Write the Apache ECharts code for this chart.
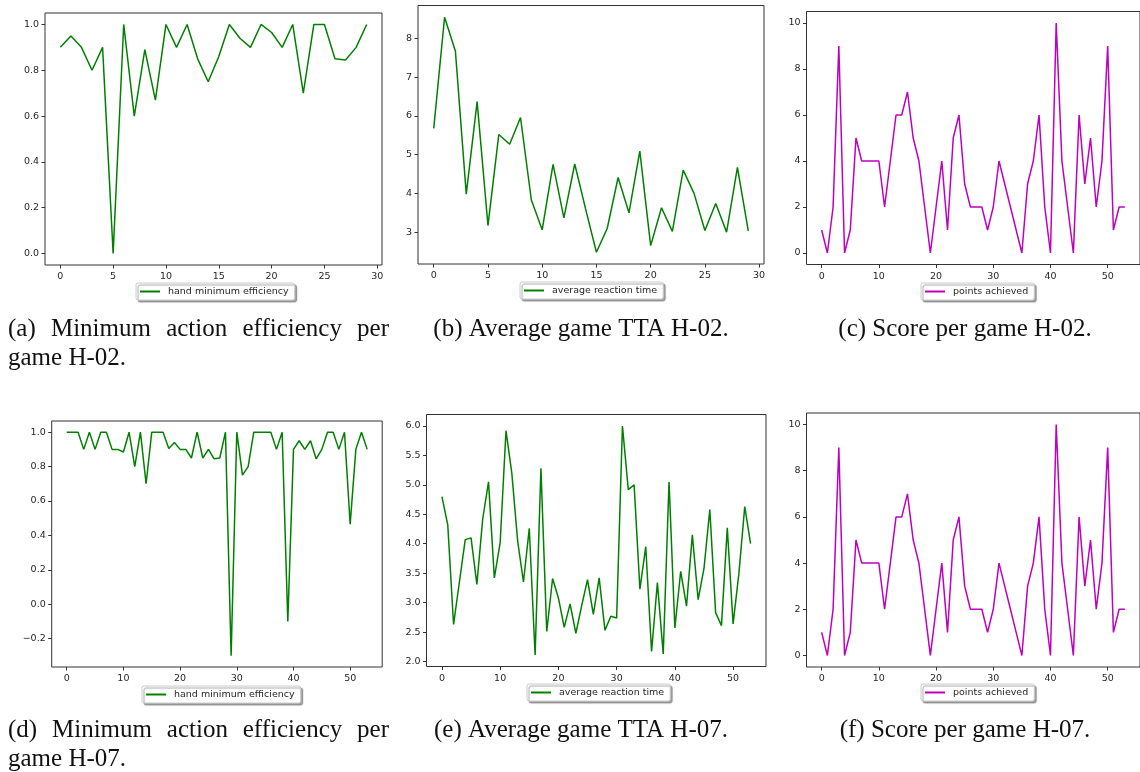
<!DOCTYPE html>
<html>
<head>
    <meta charset="utf-8">
    <title>H-02 / H-07 per game</title>
    <script src="https://cdn.jsdelivr.net/npm/echarts@6/dist/echarts.min.js"></script>
    <style>
        html, body { margin: 0; padding: 0; background: #fff; }
        #main { width: 1140px; height: 772px; }
    </style>
</head>
<body>
    <div id="main"></div>
    <script type="text/javascript">
        // per-game values
        var effH02 = [0.9, 0.95, 0.9, 0.8, 0.9, 0.0, 1.0, 0.6, 0.89, 0.67, 1.0, 0.9, 1.0, 0.85, 0.75,
            0.86, 1.0, 0.94, 0.9, 1.0, 0.965, 0.9, 1.0, 0.7, 1.0, 1.0, 0.85, 0.845, 0.9, 1.0];
        var ttaH02 = [5.68, 8.55, 7.67, 3.98, 6.37, 3.17, 5.52, 5.27, 5.96, 3.83, 3.06, 4.75, 3.37, 4.76, 3.6,
            2.48, 3.1, 4.41, 3.5, 5.09, 2.65, 3.63, 3.02, 4.6, 4.0, 3.04, 3.74, 3.0, 4.67, 3.03];
        var scoreH02 = [1, 0, 2, 9, 0, 1, 5, 4, 4, 4, 4, 2, 4, 6, 6, 7, 5, 4, 2, 0, 2, 4, 1, 5, 6, 3, 2,
            2, 2, 1, 2, 4, 3, 2, 1, 0, 3, 4, 6, 2, 0, 10, 4, 2, 0, 6, 3, 5, 2, 4, 9, 1, 2, 2];
        var effH07 = [1.0, 1.0, 1.0, 0.9, 1.0, 0.9, 1.0, 1.0, 0.9, 0.9, 0.885, 1.0, 0.8, 1.0, 0.7, 1.0, 1.0, 1.0,
            0.905, 0.94, 0.9, 0.9, 0.85, 1.0, 0.85, 0.9, 0.845, 0.85, 1.0, -0.3, 1.0, 0.75, 0.8, 1.0, 1.0, 1.0,
            1.0, 0.9, 1.0, -0.1, 0.9, 0.95, 0.9, 0.95, 0.845, 0.9, 1.0, 1.0, 0.9, 1.0, 0.465, 0.9, 1.0, 0.9];
        var ttaH07 = [4.8, 4.32, 2.63, 3.35, 4.07, 4.1, 3.31, 4.42, 5.05, 3.42, 4.02, 5.92, 5.2, 4.05, 3.35, 4.26,
            2.11, 5.28, 2.51, 3.41, 3.08, 2.58, 2.98, 2.48, 2.95, 3.39, 2.8, 3.42, 2.53, 2.77, 2.74, 6.0, 4.92,
            5.0, 3.23, 3.95, 2.17, 3.34, 2.13, 5.05, 2.57, 3.53, 2.94, 4.15, 3.05, 3.58, 4.58, 2.83, 2.61, 4.27,
            2.64, 3.5, 4.63, 4.0];
        var scoreH07 = [1, 0, 2, 9, 0, 1, 5, 4, 4, 4, 4, 2, 4, 6, 6, 7, 5, 4, 2, 0, 2, 4, 1, 5, 6, 3, 2,
            2, 2, 1, 2, 4, 3, 2, 1, 0, 3, 4, 6, 2, 0, 10, 4, 2, 0, 6, 3, 5, 2, 4, 9, 1, 2, 2];

        // tick labels
        var xTicks30 = [0, 5, 10, 15, 20, 25, 30];
        var xTicks54 = [0, 10, 20, 30, 40, 50];
        var yTicksEffH02 = [0, 0.2, 0.4, 0.6, 0.8, 1.0];
        var yTicksTtaH02 = [3, 4, 5, 6, 7, 8];
        var yTicksScore = [0, 2, 4, 6, 8, 10];
        var yTicksEffH07 = [-0.2, 0, 0.2, 0.4, 0.6, 0.8, 1.0];
        var yTicksTtaH07 = [2.0, 2.5, 3.0, 3.5, 4.0, 4.5, 5.0, 5.5, 6.0];

        var GREEN = '#008000';
        var MAGENTA = '#bf00bf';

        // one entry per subplot: data, colour, legend name, ticks, grid box, legend spot
        var panels = [
            { data: effH02, color: GREEN, name: 'hand minimum efficiency', xt: xTicks30, yt: yTicksEffH02, dec: 1,
              grid: [45, 13, 337, 252], leg: [136, 283] },
            { data: ttaH02, color: GREEN, name: 'average reaction time', xt: xTicks30, yt: yTicksTtaH02, dec: 0,
              grid: [418, 5.5, 346, 258.5], leg: [520, 282] },
            { data: scoreH02, color: MAGENTA, name: 'points achieved', xt: xTicks54, yt: yTicksScore, dec: 0,
              grid: [806.5, 11.5, 341, 253], leg: [921, 283] },
            { data: effH07, color: GREEN, name: 'hand minimum efficiency', xt: xTicks54, yt: yTicksEffH07, dec: 1,
              grid: [51.7, 421, 330.5, 246], leg: [142, 686] },
            { data: ttaH07, color: GREEN, name: 'average reaction time', xt: xTicks54, yt: yTicksTtaH07, dec: 1,
              grid: [426.5, 414.5, 339.5, 252], leg: [527, 684] },
            { data: scoreH07, color: MAGENTA, name: 'points achieved', xt: xTicks54, yt: yTicksScore, dec: 0,
              grid: [806.5, 413, 341, 254], leg: [921, 684] }
        ];

        var tickFont = { fontFamily: 'DejaVu Sans', fontSize: 9.5, color: '#262626' };

        // matplotlib style 5% padding around the data
        function pad(lo, hi) {
            var d = (hi - lo) * 0.05;
            return [lo - d, hi + d];
        }
        function fmt(dec) {
            return function (v) {
                return Number(v).toFixed(dec).replace('-', '\u2212');
            };
        }

        var grids = [], xAxes = [], yAxes = [], series = [], legends = [];
        panels.forEach(function (p, i) {
            var n = p.data.length;
            var xr = pad(0, n - 1);
            var yr = pad(Math.min.apply(null, p.data), Math.max.apply(null, p.data));
            grids.push({
                left: p.grid[0], top: p.grid[1], width: p.grid[2], height: p.grid[3],
                show: true, borderColor: '#333', borderWidth: 1, backgroundColor: '#fff'
            });
            xAxes.push({
                type: 'value', gridIndex: i, min: xr[0], max: xr[1], position: 'bottom',
                axisLine: { show: false, onZero: false },
                splitLine: { show: false },
                axisTick: { show: true, length: 3.5, customValues: p.xt, lineStyle: { color: '#333' } },
                axisLabel: Object.assign({ customValues: p.xt, margin: 7, formatter: fmt(0) }, tickFont)
            });
            yAxes.push({
                type: 'value', gridIndex: i, min: yr[0], max: yr[1], position: 'left',
                axisLine: { show: false, onZero: false },
                splitLine: { show: false },
                axisTick: { show: true, length: 3.5, customValues: p.yt, lineStyle: { color: '#333' } },
                axisLabel: Object.assign({ customValues: p.yt, margin: 6, formatter: fmt(p.dec) }, tickFont)
            });
            series.push({
                type: 'line', name: p.name, xAxisIndex: i, yAxisIndex: i,
                data: p.data.map(function (v, k) { return [k, v]; }),
                symbol: 'none', animation: false,
                lineStyle: { color: p.color, width: 1.5 },
                itemStyle: { color: p.color }
            });
            legends.push({
                data: [{ name: p.name, icon: 'rect' }],
                left: p.leg[0], top: p.leg[1],
                orient: 'horizontal',
                itemWidth: 20, itemHeight: 2,
                padding: [2, 6, 2, 4],
                backgroundColor: '#fff',
                borderColor: '#cccccc', borderWidth: 1, borderRadius: 2,
                shadowColor: 'rgba(0,0,0,0.35)', shadowBlur: 1, shadowOffsetX: 2, shadowOffsetY: 2,
                selectedMode: false,
                textStyle: { fontFamily: 'DejaVu Sans', fontSize: 9.5, color: '#262626', lineHeight: 13, padding: [0, 0, 0, 3] }
            });
        });

        // captions under each subplot (serif, like the LaTeX document)
        var capFont = '25px "Liberation Serif", serif';
        var measure = document.createElement('canvas').getContext('2d');
        measure.font = capFont;
        function cap(text, x, y, align) {
            return {
                type: 'text', silent: true,
                style: { text: text, x: x, y: y, font: capFont, fill: '#111', align: align, verticalAlign: 'middle' }
            };
        }
        // spread words of a justified line between x0 and x1
        function justify(words, x0, x1, y) {
            var widths = words.map(function (w) { return measure.measureText(w).width; });
            var total = widths.reduce(function (a, b) { return a + b; }, 0);
            var gap = (x1 - x0 - total) / (words.length - 1);
            var x = x0, out = [];
            words.forEach(function (w, k) {
                out.push(cap(w, x, y, 'left'));
                x += widths[k] + gap;
            });
            return out;
        }
        var captions = []
            .concat(justify(['(a)', 'Minimum', 'action', 'efficiency', 'per'], 8, 389, 329))
            .concat([
                cap('game H-02.', 8, 358, 'left'),
                cap('(b) Average game TTA H-02.', 581, 329, 'center'),
                cap('(c) Score per game H-02.', 965, 329, 'center')
            ])
            .concat(justify(['(d)', 'Minimum', 'action', 'efficiency', 'per'], 8, 389, 730))
            .concat([
                cap('game H-07.', 8, 759, 'left'),
                cap('(e) Average game TTA H-07.', 581, 730, 'center'),
                cap('(f) Score per game H-07.', 965, 730, 'center')
            ]);

        var myChart = echarts.init(document.getElementById('main'), null, { renderer: 'canvas' });
        myChart.setOption({
            backgroundColor: '#fff',
            animation: false,
            grid: grids,
            xAxis: xAxes,
            yAxis: yAxes,
            legend: legends,
            series: series,
            graphic: captions
        });
    </script>
</body>
</html>
